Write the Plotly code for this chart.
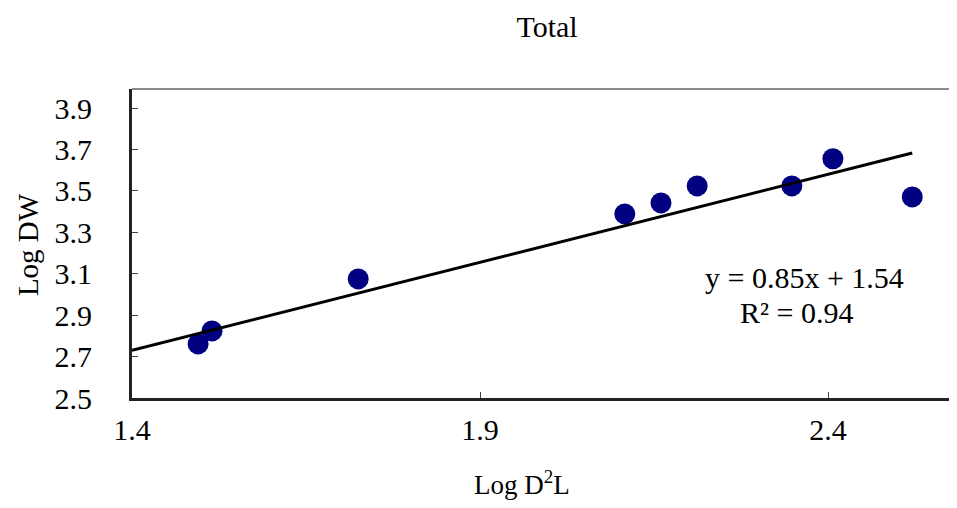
import plotly.graph_objects as go

log_d2l = [1.495, 1.515, 1.725, 2.108, 2.160, 2.212, 2.348, 2.407, 2.521]
log_dw = [2.761, 2.824, 3.075, 3.389, 3.442, 3.524, 3.524, 3.655, 3.471]
x_ticks = [1.4, 1.9, 2.4]
y_ticks = [2.5, 2.7, 2.9, 3.1, 3.3, 3.5, 3.7, 3.9]
slope, intercept = 0.85, 1.54
trend_x = [1.4, max(log_d2l)]

serif = "Liberation Serif, Times New Roman, serif"

fig = go.Figure()
fig.add_trace(go.Scatter(
    x=log_d2l, y=log_dw, mode="markers",
    marker=dict(size=21, color="#000080"), showlegend=False, cliponaxis=False))
fig.add_trace(go.Scatter(
    x=trend_x, y=[slope * v + intercept for v in trend_x], mode="lines",
    line=dict(color="black", width=3), showlegend=False))

fig.add_annotation(x=2.366, y=3.080, xref="x", yref="y", text="y = 0.85x + 1.54",
                   showarrow=False, font=dict(family=serif, size=30, color="black"))
fig.add_annotation(x=2.355, y=2.915, xref="x", yref="y", text="R² = 0.94",
                   showarrow=False, font=dict(family=serif, size=30, color="black"))
fig.add_annotation(x=-0.126, y=0.495, xref="paper", yref="paper", text="Log DW",
                   textangle=-90, showarrow=False, xanchor="center", yanchor="middle",
                   font=dict(family=serif, size=29, color="black"))
fig.add_annotation(x=0.4727, y=-0.275, xref="paper", yref="paper", text="Log D<sup>2</sup>L",
                   showarrow=False, xanchor="center", yanchor="middle",
                   font=dict(family=serif, size=27, color="black"))

fig.update_layout(
    width=949, height=492,
    margin=dict(l=124, r=0, t=81, b=102),
    paper_bgcolor="white", plot_bgcolor="white",
    title=dict(text="Total", x=0.568, xanchor="center", y=0.9614, yanchor="middle",
               font=dict(family=serif, size=30, color="black")),
    font=dict(family=serif, color="black"),
    shapes=[dict(type="line", xref="paper", yref="paper", x0=0, x1=1, y0=1, y1=1,
                 line=dict(color="#8a8a8a", width=2))],
)
fig.update_xaxes(
    range=[1.4, 2.5853], tickvals=x_ticks, ticktext=[f"{v:.1f}" for v in x_ticks],
    ticks="inside", ticklen=6, tickcolor="#444444", tickwidth=1,
    showline=True, linecolor="#222222", linewidth=3, showgrid=False, zeroline=False,
    tickfont=dict(family=serif, size=30, color="black"), ticklabelstandoff=3,
    automargin=False,
)
fig.update_yaxes(
    range=[2.5, 3.992], tickvals=y_ticks, ticktext=[f"{v:.1f}" for v in y_ticks],
    ticks="inside", ticklen=6, tickcolor="#444444", tickwidth=1,
    showline=True, linecolor="#222222", linewidth=3, showgrid=False, zeroline=False,
    tickfont=dict(family=serif, size=30, color="black"), ticklabelstandoff=31,
    automargin=False,
)

fig.write_html("out.html")
